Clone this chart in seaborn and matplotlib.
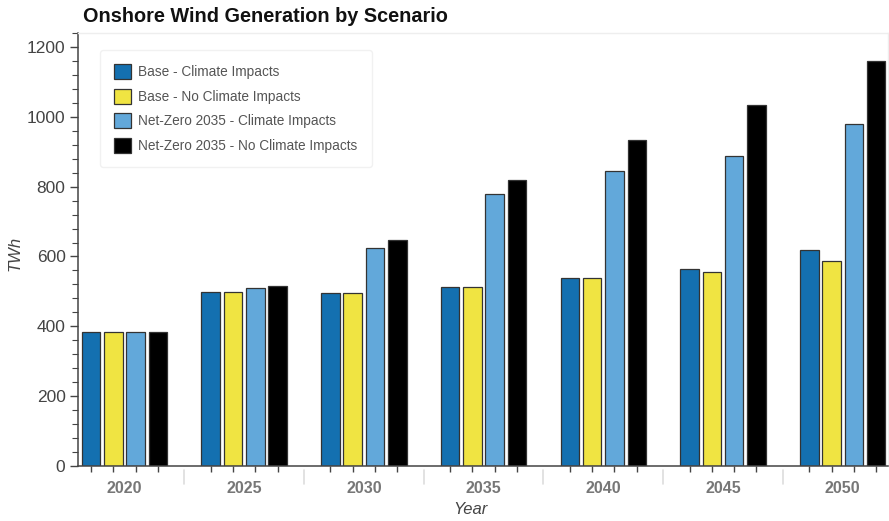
import pandas as pd
import matplotlib
matplotlib.use("Agg")
import matplotlib.pyplot as plt
import matplotlib.transforms as mtransforms
from matplotlib.ticker import MultipleLocator, FixedLocator
import seaborn as sns

# === Data (TWh) ===
years = ["2020", "2025", "2030", "2035", "2040", "2045", "2050"]
scenarios = [
    "Base - Climate Impacts",
    "Base - No Climate Impacts",
    "Net-Zero 2035 - Climate Impacts",
    "Net-Zero 2035 - No Climate Impacts",
]
base_ci = [383, 498, 496, 512, 538, 564, 618]
base_nci = [383, 498, 496, 512, 538, 556, 586]
nz_ci = [383, 510, 624, 779, 846, 888, 979]
nz_nci = [383, 516, 647, 818, 935, 1034, 1161]
colors = ["#1470b0", "#f0e442", "#62a8da", "#000000"]

df = pd.DataFrame({
    "Year": years * 4,
    "Scenario": [s for s in scenarios for _ in years],
    "TWh": base_ci + base_nci + nz_ci + nz_nci,
})

sns.set_style("ticks")
plt.rcParams["font.family"] = ["Liberation Sans", "DejaVu Sans"]

fig = plt.figure(figsize=(8.89, 5.21), dpi=100)
ax = fig.add_axes([78 / 889, 55 / 521, 810 / 889, 433 / 521])

sns.barplot(data=df, x="Year", y="TWh", hue="Scenario", order=years,
            hue_order=scenarios, palette=colors, width=0.745, gap=0.17,
            edgecolor="#333333", linewidth=0.9, saturation=1, ax=ax)

ax.set_xlim(-0.388, 6.378)
ax.set_ylim(0, 1240)

# y axis ticks
ax.yaxis.set_major_locator(MultipleLocator(200))
ax.yaxis.set_minor_locator(MultipleLocator(40))
ax.tick_params(axis="y", which="major", length=6, width=1, color="#444444",
               labelsize=12.5, labelcolor="#444444", pad=3)
ax.tick_params(axis="y", which="minor", length=4, width=0.8, color="#444444")

# x axis: ticks under each bar, group labels without ticks
centers = sorted(p.get_x() + p.get_width() / 2 for p in ax.patches if p.get_height() > 0)
ax.xaxis.set_minor_locator(FixedLocator(centers))
ax.tick_params(axis="x", which="minor", length=4, width=1, color="#444444")
ax.tick_params(axis="x", which="major", length=0, labelsize=11.5,
               labelcolor="#777777", pad=11)
for lbl in ax.get_xticklabels():
    lbl.set_fontweight("bold")

# group separators below the axis
trans = mtransforms.blended_transform_factory(ax.transData, ax.transAxes)
for i in range(len(years) - 1):
    ax.plot([i + 0.5, i + 0.5], [-0.01, -0.042], color="#dddddd", lw=1.2,
            transform=trans, clip_on=False)

# frame
for side in ["left", "bottom"]:
    ax.spines[side].set_color("#444444")
    ax.spines[side].set_linewidth(1.1)
for side in ["top", "right"]:
    ax.spines[side].set_color("#eeeeee")
    ax.spines[side].set_linewidth(1)

ax.set_xlabel("Year", fontsize=12, fontstyle="italic", color="#444444")
ax.xaxis.set_label_coords((470 - 78) / 810, -(510 - 466) / 433)
ax.set_ylabel("TWh", fontsize=12, fontstyle="italic", color="#444444")
ax.yaxis.set_label_coords(-(78 - 15) / 810, 0.49)
ax.xaxis.label.set_verticalalignment("center")
ax.yaxis.label.set_verticalalignment("center")

fig.text(83 / 889, 1 - 17 / 521, "Onshore Wind Generation by Scenario",
         fontsize=14.3, fontweight="bold", color="#111111", va="center", ha="left")

leg = ax.legend(loc="upper left", bbox_to_anchor=(22 / 810, 1 - 17 / 433),
                fontsize=9.8, frameon=True, handlelength=1.2, handleheight=1.3,
                handletextpad=0.55, labelspacing=0.7, borderpad=1.05,
                borderaxespad=0)
leg.get_frame().set_edgecolor("#eeeeee")
leg.get_frame().set_facecolor("white")
for t in leg.get_texts():
    t.set_color("#555555")

fig.savefig("out.png", dpi=100)
